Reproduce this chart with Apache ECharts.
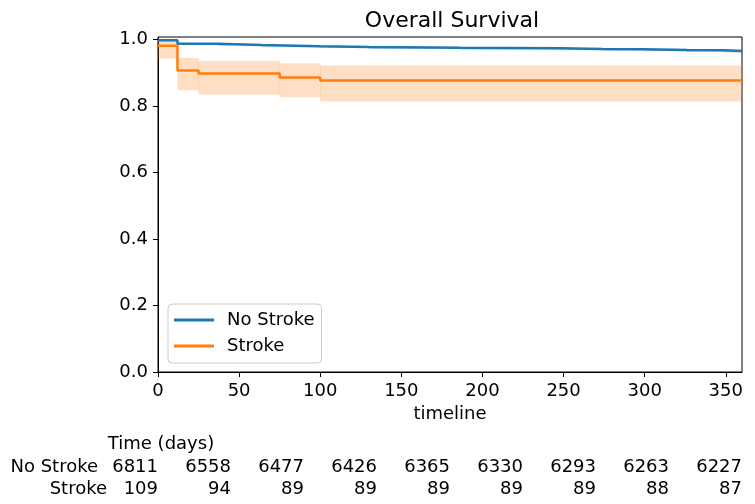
<!DOCTYPE html>
<html>
<head>
<meta charset="utf-8">
<script src="https://cdn.jsdelivr.net/npm/echarts@6/dist/echarts.min.js"></script>
<style>
html,body{margin:0;padding:0;background:#fff;}
#chart{width:755px;height:504px;}
</style>
</head>
<body>
<div id="chart"></div>
<script>
// ---- data ----
const timesNoStroke = [0, 12, 37, 64, 100, 130, 186, 248, 274, 299, 326, 349, 360];
const survNoStroke  = [0.998, 0.988, 0.984, 0.980, 0.978, 0.976, 0.974, 0.972, 0.971, 0.969, 0.968, 0.966, 0.966];
const lowerNoStroke = [0.996, 0.985, 0.981, 0.977, 0.975, 0.972, 0.970, 0.968, 0.967, 0.965, 0.963, 0.961, 0.961];
const upperNoStroke = [0.999, 0.990, 0.987, 0.983, 0.981, 0.979, 0.977, 0.975, 0.975, 0.973, 0.972, 0.970, 0.970];

const timesStroke = [0, 12, 25, 75, 100, 360];
const survStroke  = [0.982, 0.907, 0.898, 0.886, 0.877, 0.877];
const lowerStroke = [0.943, 0.848, 0.835, 0.827, 0.814, 0.814];
const upperStroke = [0.996, 0.945, 0.936, 0.929, 0.922, 0.922];

const atRiskTimes    = [0, 45, 90, 135, 180, 225, 270, 315, 360];
const atRiskNoStroke = [6811, 6558, 6477, 6426, 6365, 6330, 6293, 6263, 6227];
const atRiskStroke   = [109, 94, 89, 89, 89, 89, 89, 88, 87];
const groupNames = ['No Stroke', 'Stroke'];

const BLUE = '#1f77b4', ORANGE = '#ff7f0e';
const FONT = 'DejaVu Sans';
const FS = 18;

function zip(t, v) { return t.map((x, i) => [x, v[i]]); }
// one item per step segment: [tStart, tEnd, lower, upper]
function segs(times, lower, upper) {
  const out = [];
  for (let i = 0; i < times.length - 1; i++) out.push([times[i], times[i + 1], lower[i], upper[i]]);
  return out;
}
function bandSeries(name, times, lower, upper, color) {
  return {
    type: 'custom', name: name, silent: true, xAxisIndex: 0, yAxisIndex: 0, z: 1,
    data: segs(times, lower, upper),
    encode: { x: [0, 1], y: [2, 3] },
    renderItem: function (params, api) {
      const p0 = api.coord([api.value(0), api.value(3)]);
      const p1 = api.coord([api.value(1), api.value(2)]);
      const cs = params.coordSys;
      const x0 = Math.max(p0[0], cs.x), x1 = Math.min(p1[0], cs.x + cs.width);
      const y0 = Math.max(p0[1], cs.y);
      return { type: 'rect', shape: { x: x0, y: y0, width: x1 - x0 + 0.5, height: p1[1] - y0 },
               style: { fill: color } };
    }
  };
}

const riskData = [];
atRiskTimes.forEach((t, i) => {
  riskData.push([t, groupNames[0], atRiskNoStroke[i]]);
  riskData.push([t, groupNames[1], atRiskStroke[i]]);
});

const chart = echarts.init(document.getElementById('chart'), null, { renderer: 'canvas' });
chart.setOption({
  animation: false,
  textStyle: { fontFamily: FONT },
  title: [
    { text: 'Overall Survival', left: 447, top: 5, textAlign: 'center',
      textStyle: { fontFamily: FONT, fontSize: 22, fontWeight: 'normal', color: '#000' } },
    { text: 'Time (days)', left: 156, top: 430, textAlign: 'center',
      textStyle: { fontFamily: FONT, fontSize: FS, fontWeight: 'normal', color: '#000' } }
  ],
  legend: {
    data: groupNames, orient: 'vertical', left: 168, top: 304,
    padding: [7, 7, 8, 6], itemGap: 8, itemWidth: 40, itemHeight: 3, icon: 'rect',
    borderColor: '#cccccc', borderWidth: 1, borderRadius: 4,
    backgroundColor: 'rgba(255,255,255,0.8)',
    textStyle: { fontFamily: FONT, fontSize: FS, color: '#000', padding: [0, 0, 0, 8] }
  },
  grid: [
    { left: 158, right: 13, top: 37, bottom: 132, show: true, borderColor: '#000', borderWidth: 1, backgroundColor: 'transparent' },
    { left: 158, right: 13, top: 457, height: 43 }
  ],
  xAxis: [
    { type: 'value', gridIndex: 0, min: 0, max: 360, interval: 50,
      name: 'timeline', nameLocation: 'middle', nameGap: 33,
      nameTextStyle: { fontFamily: FONT, fontSize: FS, color: '#000' },
      axisLine: { show: true, lineStyle: { color: '#000', width: 1 } },
      axisTick: { show: true, length: 5, lineStyle: { color: '#000' } },
      axisLabel: { show: true, margin: 10, fontFamily: FONT, fontSize: FS, color: '#000', showMaxLabel: false },
      splitLine: { show: false } },
    { type: 'value', gridIndex: 1, min: 0, max: 360, show: false }
  ],
  yAxis: [
    { type: 'value', gridIndex: 0, min: 0, max: 1.008, interval: 0.2,
      axisLine: { show: true, lineStyle: { color: '#000', width: 1 } },
      axisTick: { show: true, length: 5, lineStyle: { color: '#000' } },
      axisLabel: { show: true, margin: 10, fontFamily: FONT, fontSize: FS, color: '#000', showMaxLabel: false,
        formatter: v => v.toFixed(1) },
      splitLine: { show: false } },
    { type: 'category', gridIndex: 1, data: groupNames, inverse: true,
      axisLine: { show: false }, axisTick: { show: false }, splitLine: { show: false },
      axisLabel: { show: true, interval: 0, hideOverlap: false, margin: 51, fontFamily: FONT, fontSize: FS, color: '#000',
        formatter: v => v === 'No Stroke' ? '{a|' + v + '}' : '{b|' + v + '}',
        rich: { a: { fontFamily: FONT, fontSize: FS, color: '#000', padding: [0, 9, 0, 0] },
                b: { fontFamily: FONT, fontSize: FS, color: '#000' } } } }
  ],
  series: [
    bandSeries('bandStroke', timesStroke, lowerStroke, upperStroke, 'rgba(255,127,14,0.25)'),
    bandSeries('bandNo', timesNoStroke, lowerNoStroke, upperNoStroke, 'rgba(31,119,180,0.25)'),
    { type: 'line', name: 'No Stroke', step: 'end', symbol: 'none', data: zip(timesNoStroke, survNoStroke),
      color: BLUE, lineStyle: { color: BLUE, width: 2.5 }, z: 3, xAxisIndex: 0, yAxisIndex: 0 },
    { type: 'line', name: 'Stroke', step: 'end', symbol: 'none', data: zip(timesStroke, survStroke),
      color: ORANGE, lineStyle: { color: ORANGE, width: 2.5 }, z: 3, xAxisIndex: 0, yAxisIndex: 0 },
    { type: 'scatter', name: 'atrisk', xAxisIndex: 1, yAxisIndex: 1, symbolSize: 0, silent: true,
      itemStyle: { opacity: 1 },
      data: riskData,
      label: { show: true, position: 'left', distance: 0, opacity: 1, fontFamily: FONT, fontSize: FS, color: '#000',
        formatter: p => String(p.value[2]) } }
  ]
});
</script>
</body>
</html>
